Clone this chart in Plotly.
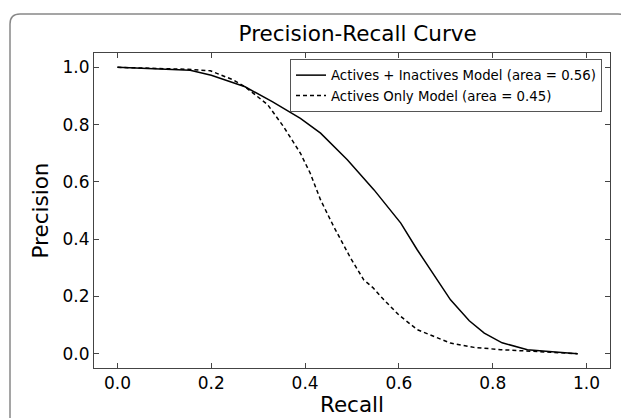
import plotly.graph_objects as go

# Data
recall_a = [0.0, 0.05, 0.10, 0.155, 0.20, 0.272, 0.33, 0.39, 0.433, 0.49, 0.547, 0.604,
            0.639, 0.68, 0.71, 0.75, 0.782, 0.82, 0.874, 0.92, 0.981]
precision_a = [1.0, 0.997, 0.994, 0.99, 0.972, 0.932, 0.88, 0.822, 0.770, 0.677, 0.572, 0.456,
               0.363, 0.262, 0.188, 0.115, 0.072, 0.038, 0.014, 0.008, 0.0]

recall_b = [0.0, 0.1, 0.15, 0.198, 0.247, 0.272, 0.32, 0.354, 0.39, 0.411, 0.433, 0.461,
            0.497, 0.525, 0.545, 0.568, 0.60, 0.639, 0.71, 0.76, 0.817, 0.924, 0.981]
precision_b = [1.0, 0.997, 0.993, 0.988, 0.956, 0.932, 0.87, 0.793, 0.70, 0.63, 0.537, 0.444,
               0.334, 0.258, 0.23, 0.188, 0.135, 0.084, 0.037, 0.022, 0.014, 0.005, 0.0]

name_a = "Actives + Inactives Model (area = 0.56)"
name_b = "Actives Only Model (area = 0.45)"
tick_vals = [0.0, 0.2, 0.4, 0.6, 0.8, 1.0]
tick_text = ["0.0", "0.2", "0.4", "0.6", "0.8", "1.0"]

# page has an 8px body margin, so the figure is sized to fit inside it
W, H = 621, 410
L, R, T, B = 86, 19, 45, 50
FONT = "DejaVu Sans"

fig = go.Figure()
fig.add_trace(go.Scatter(x=recall_a, y=precision_a, mode="lines", name=name_a,
                         line=dict(color="black", width=1.5)))
fig.add_trace(go.Scatter(x=recall_b, y=precision_b, mode="lines", name=name_b,
                         line=dict(color="black", width=1.5, dash="4px,3px")))

axis_common = dict(
    showgrid=False, zeroline=False, showline=True, linecolor="#444", linewidth=1,
    mirror="allticks", ticks="inside", ticklen=5, tickcolor="#444",
    tickvals=tick_vals, ticktext=tick_text,
    tickfont=dict(family=FONT, size=17, color="black"),
)

fig.update_xaxes(range=[-0.05, 1.05], title=dict(text="Recall", standoff=4,
                 font=dict(family=FONT, size=21.5, color="black")), **axis_common)
fig.update_yaxes(range=[-0.05, 1.05], title=dict(text="Precision", standoff=8,
                 font=dict(family=FONT, size=21.5, color="black")), **axis_common)

# rounded outer frame, computed in paper coordinates
pw, ph = W - L - R, H - T - B
def px(x):
    return (x - L) / pw
def py(y):
    return (H - B - y) / ph
x0, x1, y0, y1, r = 2, 620, 6, 440, 10
path = (f"M {px(x0)},{py(y1)} L {px(x0)},{py(y0 + r)} Q {px(x0)},{py(y0)} {px(x0 + r)},{py(y0)} "
        f"L {px(x1 - r)},{py(y0)} Q {px(x1)},{py(y0)} {px(x1)},{py(y0 + r)} L {px(x1)},{py(y1)}")
fig.add_shape(type="path", xref="paper", yref="paper", path=path,
              line=dict(color="#888", width=1.5), layer="below")

fig.update_layout(
    width=W, height=H,
    margin=dict(l=L, r=R, t=T, b=B, autoexpand=False),
    paper_bgcolor="white", plot_bgcolor="white",
    title=dict(text="Precision-Recall Curve", x=0.511, xref="paper", xanchor="center",
               y=1 - 25 / H, yanchor="middle",
               font=dict(family=FONT, size=21.5, color="black")),
    legend=dict(x=0.9845, y=0.981, xanchor="right", yanchor="top",
                bgcolor="white", bordercolor="#555", borderwidth=1,
                font=dict(family=FONT, size=13.3, color="black"),
                itemwidth=30, tracegroupgap=0),
    showlegend=True,
)

fig.write_html("out.html")
